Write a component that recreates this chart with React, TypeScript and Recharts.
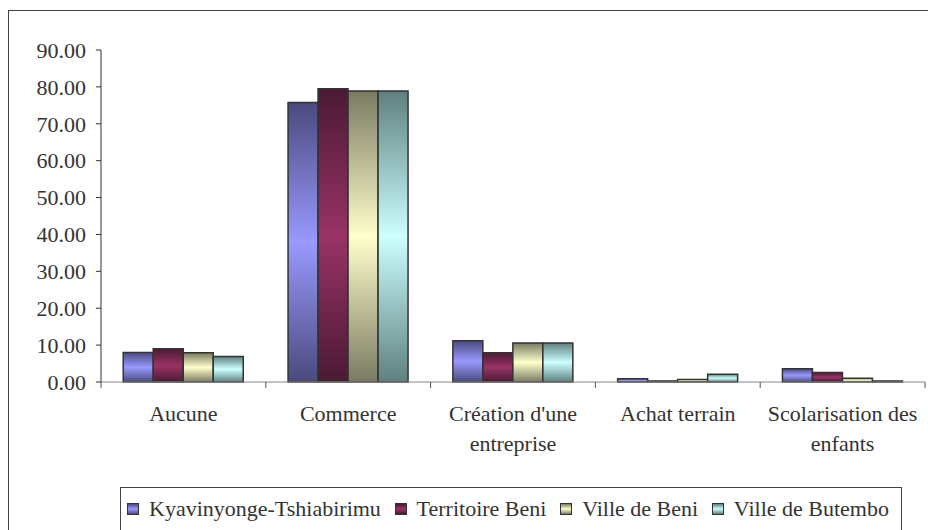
import { BarChart, Bar, XAxis, YAxis, Legend } from 'recharts'

const categories = ['Aucune', 'Commerce', "Création d'une entreprise", 'Achat terrain', 'Scolarisation des enfants']
const kyavinyonge = [8.0, 75.8, 11.2, 0.9, 3.6]
const territoireBeni = [9.0, 79.5, 7.9, 0.3, 2.6]
const villeBeni = [7.9, 78.9, 10.6, 0.7, 1.0]
const villeButembo = [6.9, 78.9, 10.6, 2.1, 0.3]
const yTicks = [0, 10, 20, 30, 40, 50, 60, 70, 80, 90]

const series = [
  { key: 'kya', name: 'Kyavinyonge-Tshiabirimu', values: kyavinyonge, light: '#9999FF', dark: '#4a4a7e' },
  { key: 'terr', name: 'Territoire Beni', values: territoireBeni, light: '#993366', dark: '#4a1a33' },
  { key: 'beni', name: 'Ville de Beni', values: villeBeni, light: '#FFFFCC', dark: '#7a7a62' },
  { key: 'but', name: 'Ville de Butembo', values: villeButembo, light: '#CCFFFF', dark: '#5f807f' },
]

const data = categories.map((c, i) => {
  const row: any = { name: c }
  series.forEach(s => { row[s.key] = s.values[i] })
  return row
})

const FONT = "'Times New Roman', Times, 'Liberation Serif', Tinos, 'Nimbus Roman', 'Noto Serif', FreeSerif, Georgia, serif"
const TEXT = '#333333'

// split long labels onto two lines, like the original
function splitLabel(label: string) {
  if (label.length <= 15) return [label]
  const at = label.lastIndexOf(' ')
  return [label.slice(0, at), label.slice(at + 1)]
}

function CategoryTick(props: any) {
  const { x, y, payload, index, visibleTicksCount } = props
  const half = payload.offset || 0
  const axisY = y - 6
  const lines = splitLabel(payload.value)
  return (
    <g>
      <line x1={x - half} x2={x - half} y1={axisY} y2={axisY + 6} stroke="#555" />
      {index === visibleTicksCount - 1 && (
        <line x1={x + half} x2={x + half} y1={axisY} y2={axisY + 6} stroke="#555" />
      )}
      <text x={x} y={axisY + 39} textAnchor="middle" fill={TEXT} fontSize={22} style={{ fontFamily: FONT }}>
        {lines.map((l, i) => (
          <tspan key={i} x={x} dy={i === 0 ? 0 : 30}>{l}</tspan>
        ))}
      </text>
    </g>
  )
}

function LegendBox() {
  return (
    <div style={{
      border: '1px solid #444', height: 44, width: 782, boxSizing: 'border-box',
      display: 'flex', alignItems: 'center', justifyContent: 'space-between',
      paddingLeft: 6, paddingRight: 12, background: '#fff',
      fontFamily: FONT, fontSize: 22, color: TEXT, whiteSpace: 'nowrap',
    }}>
      {series.map(s => (
        <div key={s.key} style={{ display: 'flex', alignItems: 'center' }}>
          <span style={{
            display: 'inline-block', width: 10, height: 10, border: '1px solid #333', marginRight: 10,
            background: `linear-gradient(to bottom, ${s.dark}, ${s.light}, ${s.dark})`,
          }} />
          <span>{s.name}</span>
        </div>
      ))}
    </div>
  )
}

export default function App() {
  return (
    <div style={{ position: 'absolute', left: 0, top: 0, width: 928, height: 530, background: '#fff', overflow: 'hidden', fontFamily: FONT }}>
      <div style={{ position: 'absolute', left: 8, top: 10, width: 940, height: 540, border: '1px solid #444' }} />
      <BarChart
        width={928}
        height={530}
        data={data}
        margin={{ top: 50, right: 3, left: 0, bottom: 0 }}
        barCategoryGap="13.5%"
        barGap={0}
        style={{ position: 'absolute', left: 0, top: 0, fontFamily: FONT }}
      >
        <defs>
          {series.map(s => (
            <linearGradient key={s.key} id={'grad-' + s.key} x1="0" y1="0" x2="0" y2="1">
              <stop offset="0%" stopColor={s.dark} />
              <stop offset="50%" stopColor={s.light} />
              <stop offset="100%" stopColor={s.dark} />
            </linearGradient>
          ))}
        </defs>
        <XAxis
          dataKey="name"
          height={148}
          interval={0}
          tickLine={false}
          tickSize={6}
          tickMargin={0}
          axisLine={{ stroke: '#888' }}
          tick={<CategoryTick />}
        />
        <YAxis
          width={101}
          domain={[0, 90]}
          ticks={yTicks}
          interval={0}
          tickFormatter={(v: number) => v.toFixed(2)}
          tickSize={5}
          tickMargin={10}
          axisLine={{ stroke: '#333' }}
          tickLine={{ stroke: '#333' }}
          tick={{ fill: TEXT, fontSize: 22, style: { fontFamily: FONT } }}
        />
        <Legend
          layout="horizontal"
          verticalAlign="middle"
          align="center"
          content={<LegendBox />}
          wrapperStyle={{ left: 120, top: 487, width: 782, height: 44 }}
        />
        {series.map(s => (
          <Bar
            key={s.key}
            dataKey={s.key}
            name={s.name}
            fill={`url(#grad-${s.key})`}
            stroke="#333"
            strokeWidth={1.5}
            isAnimationActive={false}
          />
        ))}
      </BarChart>
    </div>
  )
}
